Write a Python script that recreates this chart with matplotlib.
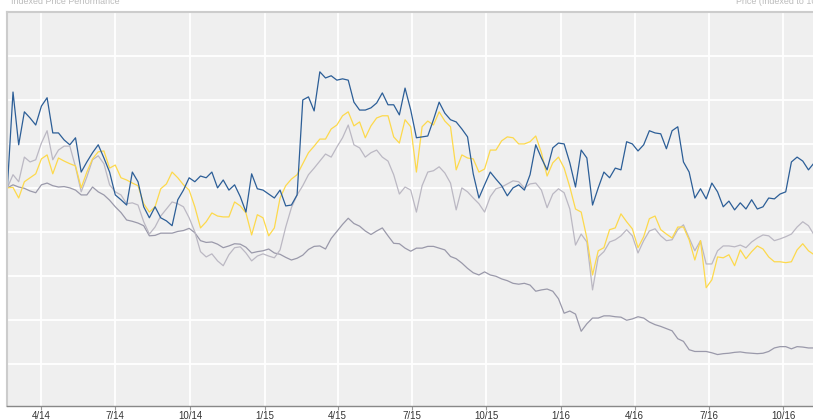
import numpy as np
import pandas as pd
import matplotlib
matplotlib.use('Agg')
import matplotlib.pyplot as plt
import matplotlib.dates as mdates
from matplotlib.ticker import FuncFormatter

# weekly observations, indexed to 100 at the start
dates = pd.date_range('2014-02-18', periods=143, freq='7D')

blue = [100.0, 121.8, 109.8, 117.3, 115.9, 114.3, 118.6, 120.5, 112.5, 112.5,
        110.9, 109.8, 111.4, 103.6, 105.9, 108.0, 109.8, 106.8, 103.6, 98.4,
        97.3, 96.1, 103.6, 101.4, 95.7, 93.2, 95.7, 93.2, 92.5, 91.4,
        97.3, 99.5, 102.3, 101.4, 102.7, 102.3, 103.6, 100.0, 101.8, 99.5,
        100.7, 98.0, 94.5, 103.2, 99.8, 99.5, 98.6, 97.7, 99.5, 95.9,
        96.1, 98.4, 120.0, 120.7, 117.5, 126.4, 125.0, 125.5, 124.5, 124.8,
        124.5, 119.5, 117.7, 117.7, 118.2, 119.3, 121.6, 118.9, 118.9, 116.6,
        122.7, 117.7, 111.4, 111.6, 111.8, 115.5, 119.5, 117.0, 115.5, 115.0,
        113.4, 111.6, 103.2, 97.7, 100.7, 103.6, 102.0, 100.5, 98.2, 100.0,
        100.7, 99.5, 103.0, 109.8, 106.8, 104.1, 109.1, 110.2, 110.0, 105.7,
        100.2, 108.6, 106.8, 96.1, 100.0, 103.6, 102.3, 104.5, 104.1, 110.5,
        110.0, 108.4, 109.8, 113.0, 112.5, 112.3, 108.9, 113.0, 113.9, 105.9,
        103.6, 97.7, 99.8, 97.5, 101.1, 99.1, 95.7, 97.0, 95.0, 96.6,
        95.2, 97.3, 95.2, 95.7, 97.7, 97.5, 98.6, 99.1, 105.9, 107.0,
        106.1, 104.1, 105.7]

yellow = [100.0, 100.1, 97.7, 101.4, 102.3, 103.2, 106.6, 107.5, 103.2, 106.8,
          106.1, 105.5, 105.0, 100.0, 103.6, 106.6, 108.2, 108.4, 104.5, 105.2,
          102.3, 101.8, 101.1, 100.5, 96.4, 94.5, 95.7, 99.8, 100.9, 103.6,
          102.3, 100.7, 99.5, 95.7, 90.9, 92.3, 94.3, 93.6, 93.4, 93.4,
          96.8, 95.9, 94.3, 89.3, 93.9, 93.2, 89.1, 90.9, 97.7, 100.5,
          102.0, 103.0, 105.5, 108.0, 109.5, 111.1, 111.1, 113.4, 114.3, 116.4,
          117.3, 114.1, 115.0, 111.4, 114.1, 115.9, 116.4, 116.4, 111.6, 110.2,
          115.5, 113.9, 103.6, 113.9, 115.2, 114.3, 117.3, 115.2, 113.9, 104.1,
          107.5, 106.8, 106.6, 103.6, 104.3, 108.6, 108.6, 110.7, 111.6, 111.4,
          110.0, 110.0, 110.5, 111.8, 108.0, 102.7, 105.7, 107.0, 104.5, 100.2,
          95.2, 94.5, 88.6, 80.2, 85.7, 86.4, 90.5, 90.9, 94.1, 92.3,
          90.7, 86.4, 88.9, 93.0, 93.6, 90.5, 89.5, 88.6, 91.1, 91.1,
          88.2, 83.6, 88.0, 77.3, 79.1, 84.3, 84.1, 84.8, 82.3, 85.9,
          83.9, 85.5, 86.8, 86.1, 84.3, 83.2, 83.2, 83.0, 83.2, 85.9,
          87.3, 85.7, 84.8]

light_gray = [100.0, 103.0, 101.4, 107.0, 105.9, 106.4, 110.2, 113.0, 106.4, 108.6,
              109.5, 109.5, 104.8, 99.1, 102.5, 106.4, 107.3, 105.5, 100.7, 99.1,
              98.4, 96.4, 96.6, 96.1, 92.3, 89.5, 91.1, 93.6, 95.2, 96.8,
              96.4, 95.7, 93.2, 90.0, 85.5, 84.3, 85.0, 83.4, 82.3, 84.8,
              86.4, 86.6, 85.2, 83.4, 84.5, 85.0, 84.5, 84.1, 85.9, 91.1,
              95.5, 98.4, 100.5, 103.0, 104.5, 106.1, 107.7, 107.0, 109.3, 111.4,
              114.3, 109.8, 109.1, 107.0, 108.0, 108.6, 107.0, 106.1, 103.0, 98.6,
              100.2, 99.5, 94.5, 100.5, 103.6, 103.9, 104.8, 103.4, 101.1, 95.0,
              100.0, 99.1, 97.7, 96.4, 94.5, 98.0, 99.8, 100.2, 100.9, 101.6,
              101.4, 100.0, 100.9, 101.1, 99.5, 95.5, 98.6, 99.8, 98.9, 95.2,
              87.0, 89.5, 87.7, 76.8, 84.3, 85.5, 87.7, 88.2, 89.1, 90.5,
              89.1, 85.2, 88.0, 90.2, 90.7, 89.1, 88.0, 88.2, 90.5, 91.6,
              88.6, 85.7, 88.0, 82.7, 82.7, 85.7, 86.8, 86.8, 86.6, 87.0,
              86.4, 87.7, 88.6, 89.3, 89.1, 88.0, 88.4, 88.9, 89.5, 91.1,
              92.3, 91.4, 89.3]

dark_gray = [100.0, 100.7, 100.2, 99.9, 99.3, 98.9, 100.7, 101.1, 100.5, 100.2,
             100.3, 100.0, 99.5, 98.4, 98.4, 100.2, 99.1, 98.4, 97.2, 95.7,
             94.4, 92.7, 92.4, 92.0, 91.4, 89.1, 89.2, 89.7, 89.7, 89.7,
             90.1, 90.3, 90.8, 89.8, 88.0, 87.6, 87.7, 87.2, 86.4, 86.8,
             87.3, 87.2, 86.5, 85.2, 85.5, 85.7, 86.1, 85.2, 84.9, 84.2,
             83.6, 84.0, 84.7, 86.0, 86.7, 86.8, 86.1, 88.5, 90.1, 91.7,
             93.1, 91.9, 91.3, 90.2, 89.4, 90.2, 90.9, 89.1, 87.4, 87.3,
             86.3, 85.6, 86.3, 86.3, 86.7, 86.7, 86.3, 85.9, 84.4, 83.9,
             82.9, 81.7, 80.7, 80.2, 80.9, 80.2, 79.9, 79.3, 78.9, 78.3,
             78.1, 78.3, 77.9, 76.5, 76.8, 77.0, 76.5, 74.8, 71.5, 72.0,
             71.3, 67.4, 69.1, 70.4, 70.4, 70.9, 70.9, 70.7, 70.6, 69.9,
             70.2, 70.7, 70.4, 69.5, 68.9, 68.5, 68.0, 67.5, 65.7, 65.1,
             63.2, 62.8, 62.8, 62.8, 62.5, 62.1, 62.3, 62.4, 62.6, 62.7,
             62.5, 62.4, 62.3, 62.4, 62.8, 63.6, 63.9, 63.9, 63.4, 63.9,
             63.8, 63.6, 63.6]

tick_dates = pd.to_datetime(['2014-04-01', '2014-07-01', '2014-10-01', '2015-01-01',
                             '2015-04-01', '2015-07-01', '2015-10-01', '2016-01-01',
                             '2016-04-01', '2016-07-01', '2016-10-01'])

plt.rcParams['font.family'] = ['Liberation Sans', 'DejaVu Sans']

fig = plt.figure(figsize=(8.13, 4.19), dpi=100)
ax = fig.add_axes([7 / 813, 13 / 419, 1 - 7 / 813, 394 / 419])
ax.set_facecolor('#efefef')

ax.plot(dates, dark_gray, color='#9a99aa', lw=0.9)
ax.plot(dates, light_gray, color='#bbb8c3', lw=0.9)
ax.plot(dates, yellow, color='#fdd94c', lw=0.9)
ax.plot(dates, blue, color='#2c5e97', lw=0.9)

x0 = dates[0] - pd.Timedelta(days=0.4)
ax.set_xlim(x0, x0 + pd.Timedelta(days=993))
ax.set_ylim(50.4, 140)

ax.set_yticks(np.arange(60, 140, 10))
ax.set_xticks(tick_dates)
ax.xaxis.set_major_formatter(FuncFormatter(
    lambda v, p: '{}/{}'.format(mdates.num2date(v).month, mdates.num2date(v).strftime('%y'))))
ax.grid(True, color='white', lw=1.3)
ax.set_axisbelow(True)
ax.tick_params(axis='y', left=False, labelleft=False)
ax.tick_params(axis='x', length=3, width=0.8, color='#999999', pad=0.5,
               labelsize=7, labelcolor='#333333')

for s in ['top', 'left']:
    ax.spines[s].set_color('#cccccc')
    ax.spines[s].set_linewidth(1.5)
ax.spines['right'].set_visible(False)
ax.spines['bottom'].set_color('#888888')
ax.spines['bottom'].set_linewidth(1.0)

fig.text(11 / 813, 1 - 1 / 419, 'Indexed Price Performance', fontsize=6.4,
         color='#bbbbbb', ha='left', va='center')
fig.text(736 / 813, 1 - 1 / 419, 'Price (Indexed to 100)', fontsize=6.4,
         color='#bbbbbb', ha='left', va='center')

fig.savefig('out.png', dpi=100)
